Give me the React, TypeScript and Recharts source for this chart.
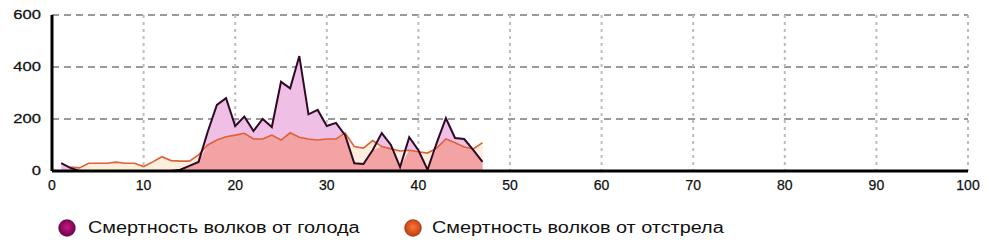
import React from "react";
import {
  ComposedChart,
  Area,
  Line,
  XAxis,
  YAxis,
  CartesianGrid,
} from "recharts";

const days = [
  1, 2, 3, 4, 5, 6, 7, 8, 9, 10, 11, 12, 13, 14, 15, 16, 17, 18, 19, 20, 21, 22, 23, 24,
  25, 26, 27, 28, 29, 30, 31, 32, 33, 34, 35, 36, 37, 38, 39, 40, 41, 42, 43, 44, 45, 46, 47,
];

const starvation = [
  30, 12, 0, 0, 0, 0, 0, 0, 0, 0, 0, 0, 0, 5, 20, 35, 151, 254, 280, 173, 209, 154, 200,
  169, 343, 318, 442, 218, 235, 173, 185, 138, 30, 27, 80, 146, 100, 15, 130, 80, 5, 108,
  203, 127, 123, 80, 35,
];

const shooting: (number | null)[] = [
  null, 15, 12, 30, 30, 30, 34, 30, 30, 17, 35, 55, 40, 38, 38, 62, 100, 119, 132, 138, 145,
  123, 123, 138, 119, 147, 130, 123, 119, 123, 123, 146, 94, 88, 117, 94, 85, 77, 80, 74,
  69, 88, 123, 109, 92, 85, 109,
];

const xTicks = [0, 10, 20, 30, 40, 50, 60, 70, 80, 90, 100];
const yTicks = [0, 200, 400, 600];

const seriesNames = ["Смертность волков от голода", "Смертность волков от отстрела"];

const data = days.map((d, i) => {
  const s = starvation[i];
  const h = shooting[i];
  return {
    day: d,
    starvation: s,
    shooting: h,
    overlap: h == null ? null : Math.min(s, h),
  };
});

const FONT = "'Liberation Sans', Arial, sans-serif";

const XTick = (props: any) => {
  const { x, y, payload } = props;
  return (
    <text
      x={x}
      y={y + 11}
      textAnchor="middle"
      fontSize={14}
      fontFamily={FONT}
      fill="#111"
      stroke="#111"
      strokeWidth={0.25}
    >
      {payload.value}
    </text>
  );
};

const YTick = (props: any) => {
  const { x, y, payload } = props;
  return (
    <g transform={`translate(${x - 3},${y})`}>
      <text
        transform="scale(1.38,1)"
        textAnchor="end"
        dy="0.36em"
        fontSize={12}
        fontFamily={FONT}
        fill="#111"
        stroke="#111"
        strokeWidth={0.25}
      >
        {payload.value}
      </text>
    </g>
  );
};

const LegendDot = ({ id, dark, light }: { id: string; dark: string; light: string }) => (
  <svg width={20} height={20} style={{ position: "absolute", left: 0, top: 0 }}>
    <defs>
      <radialGradient id={id} cx="50%" cy="45%" r="55%">
        <stop offset="0%" stopColor={light} />
        <stop offset="100%" stopColor={dark} />
      </radialGradient>
    </defs>
    <circle cx={10} cy={10} r={8.5} fill={`url(#${id})`} stroke="#00000055" strokeWidth={0.8} />
  </svg>
);

const labelStyle: React.CSSProperties = {
  position: "absolute",
  top: 0,
  whiteSpace: "nowrap",
  transform: "scaleX(1.24)",
  transformOrigin: "left center",
  lineHeight: "20px",
};

export default function App() {
  return (
    <div
      style={{
        position: "absolute",
        left: 0,
        top: 0,
        width: 992,
        height: 249,
        background: "#fff",
        overflow: "hidden",
      }}
    >
      <ComposedChart
        width={992}
        height={249}
        data={data}
        margin={{ top: 15, right: 24, bottom: 48, left: 8 }}
      >
        <CartesianGrid
          horizontal={true}
          vertical={false}
          stroke="#7a7a7a"
          strokeDasharray="7 5"
          strokeWidth={1.5}
        />
        <CartesianGrid
          horizontal={false}
          vertical={true}
          stroke="#bdbdbd"
          strokeDasharray="3 4"
          strokeWidth={2}
        />
        <XAxis
          type="number"
          dataKey="day"
          domain={[0, 100]}
          ticks={xTicks}
          interval={0}
          axisLine={{ stroke: "#000", strokeWidth: 3 }}
          tickLine={false}
          tick={<XTick />}
          height={30}
        />
        <YAxis
          type="number"
          domain={[0, 600]}
          ticks={yTicks}
          interval={0}
          axisLine={{ stroke: "#000", strokeWidth: 3 }}
          tickLine={false}
          tick={<YTick />}
          width={44}
        />
        <Area
          type="linear"
          dataKey="starvation"
          stroke="none"
          fill="#f0bfe6"
          fillOpacity={1}
          isAnimationActive={false}
          dot={false}
          activeDot={false}
        />
        <Area
          type="linear"
          dataKey="shooting"
          stroke="none"
          fill="#fdeedd"
          fillOpacity={1}
          isAnimationActive={false}
          dot={false}
          activeDot={false}
        />
        <Area
          type="linear"
          dataKey="overlap"
          stroke="none"
          fill="#f3a3a3"
          fillOpacity={1}
          isAnimationActive={false}
          dot={false}
          activeDot={false}
        />
        <Line
          type="linear"
          dataKey="shooting"
          stroke="#de6236"
          strokeWidth={1.6}
          dot={false}
          activeDot={false}
          isAnimationActive={false}
        />
        <Line
          type="linear"
          dataKey="starvation"
          stroke="#2e0a26"
          strokeWidth={2}
          dot={false}
          activeDot={false}
          isAnimationActive={false}
        />
      </ComposedChart>
      <div
        style={{
          position: "absolute",
          left: 57,
          top: 218,
          height: 20,
          width: 330,
          fontFamily: FONT,
          fontSize: 16,
          color: "#111",
        }}
      >
        <LegendDot id="gStarv" dark="#6e0046" light="#c21a88" />
        <span style={{ ...labelStyle, left: 31 }}>{seriesNames[0]}</span>
      </div>
      <div
        style={{
          position: "absolute",
          left: 403,
          top: 218,
          height: 20,
          width: 360,
          fontFamily: FONT,
          fontSize: 16,
          color: "#111",
        }}
      >
        <LegendDot id="gShoot" dark="#c8380c" light="#f47a3a" />
        <span style={{ ...labelStyle, left: 29 }}>{seriesNames[1]}</span>
      </div>
    </div>
  );
}
